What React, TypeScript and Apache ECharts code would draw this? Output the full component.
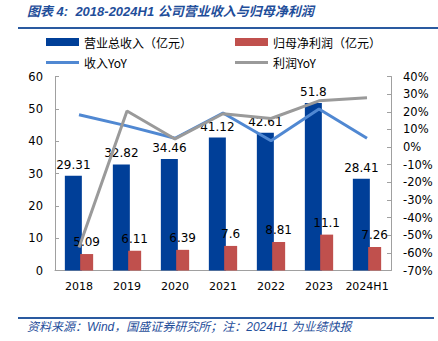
import React, { useEffect, useRef } from "react";
import * as echarts from "echarts";

const categories = ["2018", "2019", "2020", "2021", "2022", "2023", "2024H1"];
const revenue = [29.31, 32.82, 34.46, 41.12, 42.61, 51.8, 28.41];
const netProfit = [5.09, 6.11, 6.39, 7.6, 8.81, 11.1, 7.26];
const revenueYoY = [18.3, 12.0, 5.0, 19.3, 3.6, 21.6, 5.0];
const profitYoY = [-57.0, 20.4, 4.6, 18.9, 16.2, 26.2, 28.0];

const TITLE = "图表 4:  2018-2024H1 公司营业收入与归母净利润";
const FOOTER = "资料来源：Wind，国盛证券研究所；注：2024H1 为业绩快报";

const C_BAR_BLUE = "#003f98";
const C_BAR_RED = "#c0504d";
const C_LINE_BLUE = "#5088d2";
const C_LINE_GRAY = "#9a9a9a";
const C_TITLE = "#1f4e9a";
const AX_FONT = "DejaVu Sans";
const CJK_FONT = "Noto Sans CJK SC";

export default function App() {
  const ref = useRef<HTMLDivElement>(null);
  useEffect(() => {
    if (!ref.current) return;
    const chart = echarts.init(ref.current, undefined, { renderer: "svg" });
    const legendText = { fontSize: 12, color: "#000", fontFamily: CJK_FONT };
    const mkLegend = (name: string, left: number, top: number, isLine: boolean) => ({
      data: [{ name, icon: "rect" }],
      left,
      top: isLine ? top + 2.5 : top,
      itemWidth: 33,
      itemHeight: isLine ? 3 : 8,
      itemGap: 3,
      textStyle: legendText,
      padding: 0,
    });
    chart.setOption({
      animation: false,
      backgroundColor: "#fff",
      title: {
        text: TITLE,
        left: 27,
        top: 5,
        padding: 0,
        textStyle: {
          fontSize: 13,
          fontStyle: "italic",
          fontWeight: "bold",
          color: C_TITLE,
          fontFamily: "Liberation Sans, " + CJK_FONT,
        },
      },
      graphic: [
        {
          type: "line",
          shape: { x1: 18, y1: 28, x2: 438, y2: 28 },
          style: { stroke: "#2a5aa0", lineWidth: 2 },
        },
        {
          type: "line",
          shape: { x1: 18, y1: 318, x2: 434, y2: 318 },
          style: { stroke: "#2a5aa0", lineWidth: 2 },
        },
        {
          type: "text",
          left: 27,
          top: 321,
          style: {
            text: FOOTER,
            fontSize: 12,
            fontStyle: "italic",
            fill: C_TITLE,
            fontFamily: "Liberation Sans, " + CJK_FONT,
          },
        },
      ],
      legend: [
        mkLegend("营业总收入（亿元）", 46, 36, false),
        mkLegend("归母净利润（亿元）", 235, 36, false),
        mkLegend("收入YoY", 46, 54, true),
        mkLegend("利润YoY", 235, 54, true),
      ],
      grid: { left: 55, right: 47, top: 76.5, bottom: 70.5 },
      xAxis: {
        type: "category",
        data: categories,
        axisLine: { lineStyle: { color: "#a0a0a0" } },
        axisTick: { inside: true, length: 4, lineStyle: { color: "#a0a0a0" } },
        axisLabel: {
          fontSize: 11,
          color: "#000",
          fontFamily: AX_FONT,
          margin: 10,
          interval: 0,
        },
      },
      yAxis: [
        {
          type: "value",
          min: 0,
          max: 60,
          interval: 10,
          axisLine: { show: true, lineStyle: { color: "#a0a0a0" } },
          axisTick: { show: true, inside: true, length: 4, lineStyle: { color: "#a0a0a0" } },
          splitLine: { show: false },
          axisLabel: { fontSize: 11.5, color: "#000", fontFamily: AX_FONT, margin: 12 },
        },
        {
          type: "value",
          min: -70,
          max: 40,
          interval: 10,
          position: "right",
          axisLine: { show: true, lineStyle: { color: "#a0a0a0" } },
          axisTick: { show: true, inside: true, length: 4, lineStyle: { color: "#a0a0a0" } },
          splitLine: { show: false },
          axisLabel: {
            fontSize: 11.5,
            color: "#000",
            fontFamily: AX_FONT,
            margin: 12,
            formatter: "{value}%",
          },
        },
      ],
      series: [
        {
          name: "营业总收入（亿元）",
          type: "bar",
          data: revenue,
          barWidth: 17,
          barGap: "-10%",
          itemStyle: { color: C_BAR_BLUE },
          label: {
            show: true,
            position: "top",
            distance: 5,
            fontSize: 12,
            color: "#000",
            fontFamily: AX_FONT,
          },
          z: 2,
        },
        {
          name: "归母净利润（亿元）",
          type: "bar",
          data: netProfit,
          barWidth: 13,
          itemStyle: { color: C_BAR_RED },
          label: {
            show: true,
            position: "top",
            distance: 6,
            fontSize: 12,
            color: "#000",
            fontFamily: AX_FONT,
          },
          z: 2,
        },
        {
          name: "收入YoY",
          type: "line",
          yAxisIndex: 1,
          data: revenueYoY,
          symbol: "none",
          lineStyle: { color: C_LINE_BLUE, width: 3 },
          itemStyle: { color: C_LINE_BLUE },
          z: 3,
        },
        {
          name: "利润YoY",
          type: "line",
          yAxisIndex: 1,
          data: profitYoY,
          symbol: "none",
          lineStyle: { color: C_LINE_GRAY, width: 3 },
          itemStyle: { color: C_LINE_GRAY },
          z: 3,
        },
      ],
    });
    return () => chart.dispose();
  }, []);
  return (
    <div
      ref={ref}
      style={{ position: "fixed", left: 0, top: 0, width: 438, height: 341 }}
    />
  );
}
